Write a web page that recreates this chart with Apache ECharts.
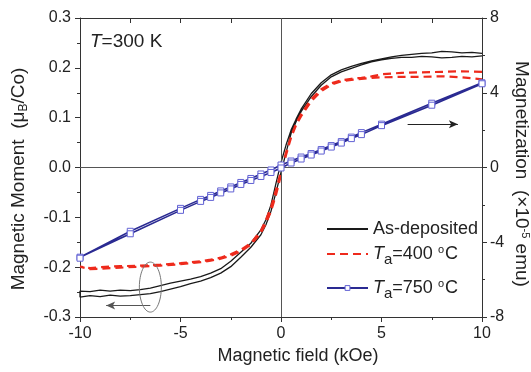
<!DOCTYPE html>
<html>
<head>
<meta charset="utf-8">
<script src="https://cdn.jsdelivr.net/npm/echarts@6/dist/echarts.min.js"></script>
<style>
  html, body { margin: 0; padding: 0; background: #fff; }
  #chart { width: 531px; height: 372px; }
</style>
</head>
<body>
<div id="chart"></div>
<script>
// field (kOe) / moment (μB/Co), each loop read as a descending + ascending branch
const blackDownH = [10, 9.5, 9, 8.5, 8, 7.5, 7, 6.5, 6, 5.5, 5, 4.5, 4, 3.5, 3, 2.5, 2, 1.5, 1, 0.75, 0.5, 0.25, 0, -0.25, -0.5, -0.75, -1, -1.5, -2, -2.5, -3, -3.5, -4, -4.5, -5, -5.5, -6, -6.5, -7, -7.5, -8, -8.5, -9, -9.5, -10]
const blackDownM = [0.229, 0.231, 0.230, 0.232, 0.233, 0.230, 0.229, 0.227, 0.225, 0.222, 0.218, 0.214, 0.209, 0.203, 0.196, 0.186, 0.170, 0.148, 0.117, 0.097, 0.075, 0.045, 0.010, -0.032, -0.075, -0.105, -0.125, -0.152, -0.170, -0.188, -0.203, -0.212, -0.219, -0.224, -0.228, -0.232, -0.237, -0.242, -0.245, -0.247, -0.246, -0.248, -0.246, -0.249, -0.248]
const blackUpH = [-10, -9.5, -9, -8.5, -8, -7.5, -7, -6.5, -6, -5.5, -5, -4.5, -4, -3.5, -3, -2.5, -2, -1.5, -1, -0.75, -0.5, -0.25, 0, 0.25, 0.5, 0.75, 1, 1.5, 2, 2.5, 3, 3.5, 4, 4.5, 5, 5.5, 6, 6.5, 7, 7.5, 8, 8.5, 9, 9.5, 10]
const blackUpM = [-0.260, -0.257, -0.259, -0.256, -0.258, -0.257, -0.255, -0.253, -0.249, -0.244, -0.239, -0.233, -0.228, -0.221, -0.212, -0.199, -0.180, -0.160, -0.135, -0.115, -0.088, -0.050, -0.010, 0.030, 0.068, 0.092, 0.112, 0.142, 0.165, 0.182, 0.192, 0.199, 0.206, 0.212, 0.216, 0.219, 0.221, 0.221, 0.223, 0.222, 0.220, 0.221, 0.223, 0.222, 0.224]

const redDownH = [10, 9, 8, 7, 6, 5, 4.5, 4, 3.5, 3, 2.5, 2, 1.5, 1, 0.75, 0.5, 0.25, 0, -0.25, -0.5, -0.75, -1, -1.5, -2, -2.5, -3, -3.5, -4, -4.5, -5, -6, -7, -8, -9, -9.5, -10]
const redDownM = [0.192, 0.193, 0.192, 0.191, 0.190, 0.187, 0.183, 0.180, 0.178, 0.175, 0.169, 0.157, 0.137, 0.107, 0.088, 0.062, 0.030, -0.008, -0.045, -0.080, -0.105, -0.127, -0.152, -0.165, -0.174, -0.181, -0.185, -0.188, -0.190, -0.192, -0.195, -0.197, -0.198, -0.200, -0.202, -0.199]
const redUpH = [-10, -9.5, -9, -8, -7, -6, -5, -4.5, -4, -3.5, -3, -2.5, -2, -1.5, -1, -0.75, -0.5, -0.25, 0, 0.25, 0.5, 0.75, 1, 1.5, 2, 2.5, 3, 3.5, 4, 4.5, 5, 6, 7, 8, 9, 10]
const redUpM = [-0.201, -0.204, -0.203, -0.201, -0.199, -0.197, -0.194, -0.192, -0.190, -0.187, -0.183, -0.177, -0.168, -0.155, -0.131, -0.112, -0.088, -0.055, -0.015, 0.025, 0.060, 0.085, 0.103, 0.133, 0.153, 0.166, 0.173, 0.176, 0.178, 0.180, 0.181, 0.182, 0.182, 0.183, 0.181, 0.177]

const blueDownH = [10, 7.5, 5, 4, 3.5, 3, 2.5, 2, 1.5, 1, 0.5, 0, -0.5, -1, -1.5, -2, -2.5, -3, -3.5, -4, -5, -7.5, -10]
const blueDownM = [0.170, 0.129, 0.087, 0.070, 0.061, 0.052, 0.044, 0.036, 0.028, 0.021, 0.013, 0.005, -0.005, -0.013, -0.022, -0.030, -0.039, -0.047, -0.056, -0.064, -0.082, -0.128, -0.180]
const blueUpH = [-10, -7.5, -5, -4, -3.5, -3, -2.5, -2, -1.5, -1, -0.5, 0, 0.5, 1, 1.5, 2, 2.5, 3, 3.5, 4, 5, 7.5, 10]
const blueUpM = [-0.182, -0.133, -0.086, -0.068, -0.060, -0.051, -0.043, -0.034, -0.026, -0.018, -0.010, -0.001, 0.009, 0.017, 0.025, 0.033, 0.041, 0.049, 0.058, 0.066, 0.084, 0.125, 0.168]

const seriesNames = ['As-deposited', 'Ta=400 °C', 'Ta=750 °C']
const fieldRange = [-10, 10, 5]
const momentRange = [-0.3, 0.3, 0.1]
const magRange = [-8, 8, 4]

// annotation anchors in data units
const rightArrow = [[6.3, 0.087], [8.8, 0.087]]
const leftArrow = [[-6.5, -0.277], [-8.7, -0.277]]
const ellipseCenter = [-6.5, -0.24]

const pairs = (h, m) => h.map((x, i) => [x, m[i]])

const font = 'Liberation Sans, Arial, sans-serif'
const txt = '#222'
const axisCol = '#333'

const chart = echarts.init(document.getElementById('chart'), null, { renderer: 'canvas' })

const legendRich = {
  n: { fontSize: 18, color: txt, fontFamily: font },
  i: { fontSize: 18, color: txt, fontFamily: font, fontStyle: 'italic' },
  s: { fontSize: 15, color: txt, fontFamily: font, padding: [11, 0, 0, 0] },
  u: { fontSize: 11, color: txt, fontFamily: font, padding: [0, 1, 9, 0] },
}
const legendFmt = (name) => {
  if (name === 'As-deposited') return '{n|As-deposited}'
  const t = name.split('=')[1].replace(' °C', '')
  return '{i|T}{s|a}{n|=' + t + ' }{u|o}{n|C}'
}
const mkLegend = (name, top, hideSymbol) => ({
  data: [name],
  left: 321,
  top: top,
  orient: 'vertical',
  itemWidth: 41,
  itemHeight: hideSymbol ? 10 : 6,
  itemGap: 6,
  formatter: legendFmt,
  itemStyle: hideSymbol ? { opacity: 0 } : { borderWidth: 1 },
  textStyle: { rich: legendRich },
})

const xBase = {
  type: 'value',
  min: fieldRange[0],
  max: fieldRange[1],
  interval: fieldRange[2],
  splitLine: { show: false },
  axisLine: { show: true, onZero: false, lineStyle: { color: axisCol, width: 1 } },
  minorTick: { show: true, splitNumber: 2, length: 3, lineStyle: { color: axisCol } },
}

const yBase = {
  type: 'value',
  splitLine: { show: false },
  axisLine: { show: true, onZero: false, lineStyle: { color: axisCol, width: 1 } },
  axisTick: { show: true, inside: false, length: 5, lineStyle: { color: axisCol } },
  minorTick: { show: true, splitNumber: 2, length: 3, lineStyle: { color: axisCol } },
}

// text pieces that are placed by hand: plot label and the two rotated axis titles
const texts = [
  {
    type: 'text',
    left: 90,
    top: 32,
    style: {
      text: '{i|T}{n|=300 K}',
      rich: {
        i: { fontSize: 19, fill: txt, fontFamily: font, fontStyle: 'italic' },
        n: { fontSize: 19, fill: txt, fontFamily: font },
      },
    },
  },
  {
    type: 'text',
    x: 19,
    y: 179,
    rotation: Math.PI / 2,
    style: {
      text: '{n|Magnetic Moment  (μ}{s|B}{n|/Co)}',
      align: 'center',
      verticalAlign: 'middle',
      rich: {
        n: { fontSize: 19, fill: txt, fontFamily: font },
        s: { fontSize: 12, fill: txt, fontFamily: font, padding: [9, 0, 0, 0] },
      },
    },
  },
  {
    type: 'text',
    x: 521,
    y: 174,
    rotation: -Math.PI / 2,
    style: {
      text: '{n|Magnetization  (×10}{u|-5}{n| emu)}',
      align: 'center',
      verticalAlign: 'middle',
      rich: {
        n: { fontSize: 19, fill: txt, fontFamily: font },
        u: { fontSize: 11, fill: txt, fontFamily: font, padding: [0, 0, 9, 0] },
      },
    },
  },
]

chart.setOption({
  animation: false,
  backgroundColor: '#fff',
  grid: { left: 80, right: 49, top: 18, bottom: 55, outerBoundsMode: 'none' },
  legend: [
    mkLegend(seriesNames[0], 215, true),
    mkLegend(seriesNames[1], 239, true),
    mkLegend(seriesNames[2], 273, false),
  ],
  xAxis: [
    {
      ...xBase,
      position: 'bottom',
      axisTick: { show: true, inside: false, length: 5, lineStyle: { color: axisCol } },
      axisLabel: { color: txt, fontSize: 16, fontFamily: font, margin: 9 },
      name: 'Magnetic field (kOe)',
      nameLocation: 'middle',
      nameGap: 27,
      nameTextStyle: { color: txt, fontSize: 18, fontFamily: font, padding: [0, 0, 0, 34] },
    },
    {
      ...xBase,
      position: 'top',
      axisTick: { show: true, inside: true, length: 5, lineStyle: { color: axisCol } },
      minorTick: { show: true, splitNumber: 2, length: 5, lineStyle: { color: axisCol } },
      axisLabel: { show: false },
    },
  ],
  yAxis: [
    {
      ...yBase,
      position: 'left',
      min: momentRange[0],
      max: momentRange[1],
      interval: momentRange[2],
      axisLabel: { color: txt, fontSize: 16, fontFamily: font, margin: 9, formatter: (v) => v.toFixed(1) },
    },
    {
      ...yBase,
      position: 'right',
      min: magRange[0],
      max: magRange[1],
      interval: magRange[2],
      axisLabel: { color: txt, fontSize: 16, fontFamily: font, margin: 8 },
    },
  ],
  series: [
    {
      name: seriesNames[0],
      type: 'line',
      data: pairs(blackDownH, blackDownM).concat(pairs(blackUpH, blackUpM)),
      symbol: 'none',
      lineStyle: { color: '#1a1a1a', width: 1.3 },
      itemStyle: { color: '#1a1a1a' },
      z: 3,
      markLine: {
        silent: true,
        symbol: 'none',
        label: { show: false },
        lineStyle: { color: '#555', width: 1, type: 'solid' },
        data: [
          { xAxis: 0 },
          { yAxis: 0 },
          [
            { coord: rightArrow[0], symbol: 'none', lineStyle: { color: '#222', width: 1 } },
            { coord: rightArrow[1], symbol: 'arrow', symbolSize: [6, 9] },
          ],
          [
            { coord: leftArrow[0], symbol: 'none', lineStyle: { color: '#555', width: 1 } },
            { coord: leftArrow[1], symbol: 'arrow', symbolSize: [6, 9] },
          ],
        ],
      },
    },
    {
      name: seriesNames[1],
      type: 'line',
      data: pairs(redDownH, redDownM).concat(pairs(redUpH, redUpM)),
      symbol: 'none',
      lineStyle: { color: '#ee2a1c', width: 2.2, type: [8, 5] },
      itemStyle: { color: '#ee2a1c' },
      z: 4,
    },
    {
      name: seriesNames[2],
      type: 'line',
      data: pairs(blueDownH, blueDownM).concat(pairs(blueUpH, blueUpM)),
      symbol: 'rect',
      symbolSize: 6,
      showSymbol: true,
      showAllSymbol: true,
      lineStyle: { color: '#2a2a92', width: 1.6 },
      itemStyle: { color: '#fff', borderColor: '#6262d4', borderWidth: 1 },
      z: 5,
    },
  ],
  graphic: texts,
})

const c = chart.convertToPixel({ gridIndex: 0 }, ellipseCenter)
chart.setOption({
  graphic: texts.concat([
    {
      type: 'ellipse',
      shape: { cx: c[0], cy: c[1], rx: 11, ry: 25 },
      style: { fill: 'none', stroke: '#777', lineWidth: 1 },
      z: 10,
    },
  ]),
})
</script>
</body>
</html>
